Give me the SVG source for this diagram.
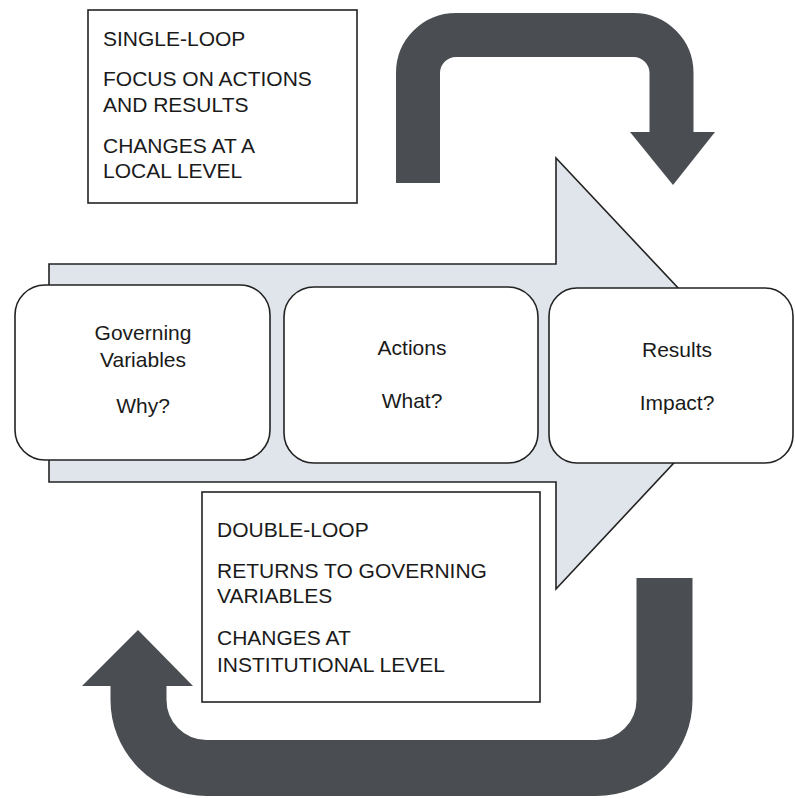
<svg xmlns="http://www.w3.org/2000/svg" width="795" height="799" viewBox="0 0 795 799">
<style>
.bg{fill:#ffffff}
.flow{fill:#dfe5ea;stroke:#222;stroke-width:1.6;stroke-linejoin:miter}
.node{fill:#ffffff;stroke:#222;stroke-width:1.6}
.box{fill:#ffffff;stroke:#222;stroke-width:1.6}
.loop{fill:none;stroke:#4a4d52;stroke-linecap:butt;stroke-linejoin:round}
.head{fill:#4a4d52}
.t{font-family:"Liberation Sans",Arial,sans-serif;fill:#1a1a1a}
.nt{font-size:21px;text-anchor:middle}
.bt{font-size:21px}
</style>
<rect class="bg" x="0" y="0" width="795" height="799"/>
<g id="flow-arrow">
<path class="flow" d="M49,264 L556,264 L556,158 L758,373 L556,589 L556,482 L49,482 Z"/>
</g>
<g id="connectors">
<path class="loop" stroke-width="44" d="M418,183 L418,73 A38,38 0 0 1 456,35 L633.5,35 A38,38 0 0 1 671.5,73 L671.5,133"/>
<polygon class="head" points="630,132 715,132 673,185"/>
<path class="loop" stroke-width="56" d="M664.5,578 L664.5,700 A68,68 0 0 1 596.5,768 L206.5,768 A68,68 0 0 1 138.5,700 L138.5,685"/>
<polygon class="head" points="82,686 193,686 138,630"/>
</g>
<g id="node-governing">
<rect class="node" x="15" y="285" width="255" height="175" rx="30" ry="30"/>
<text class="t nt" x="143" y="340">Governing</text>
<text class="t nt" x="143" y="367">Variables</text>
<text class="t nt" x="143" y="413">Why?</text>
</g>
<g id="node-actions">
<rect class="node" x="284" y="287" width="254" height="176" rx="30" ry="30"/>
<text class="t nt" x="412" y="355">Actions</text>
<text class="t nt" x="412" y="408">What?</text>
</g>
<g id="node-results">
<rect class="node" x="549" y="288" width="244" height="175" rx="28" ry="28"/>
<text class="t nt" x="677" y="357">Results</text>
<text class="t nt" x="677" y="410">Impact?</text>
</g>
<g id="single-loop">
<rect class="box" x="88" y="10" width="269" height="193"/>
<text class="t bt" x="103" y="46">SINGLE-LOOP</text>
<text class="t bt" x="103" y="86">FOCUS ON ACTIONS</text>
<text class="t bt" x="103" y="112">AND RESULTS</text>
<text class="t bt" x="103" y="153">CHANGES AT A</text>
<text class="t bt" x="103" y="178">LOCAL LEVEL</text>
</g>
<g id="double-loop">
<rect class="box" x="202" y="492" width="338" height="210"/>
<text class="t bt" x="217" y="537">DOUBLE-LOOP</text>
<text class="t bt" x="217" y="578">RETURNS TO GOVERNING</text>
<text class="t bt" x="217" y="603">VARIABLES</text>
<text class="t bt" x="217" y="645">CHANGES AT</text>
<text class="t bt" x="217" y="672">INSTITUTIONAL LEVEL</text>
</g>
</svg>
